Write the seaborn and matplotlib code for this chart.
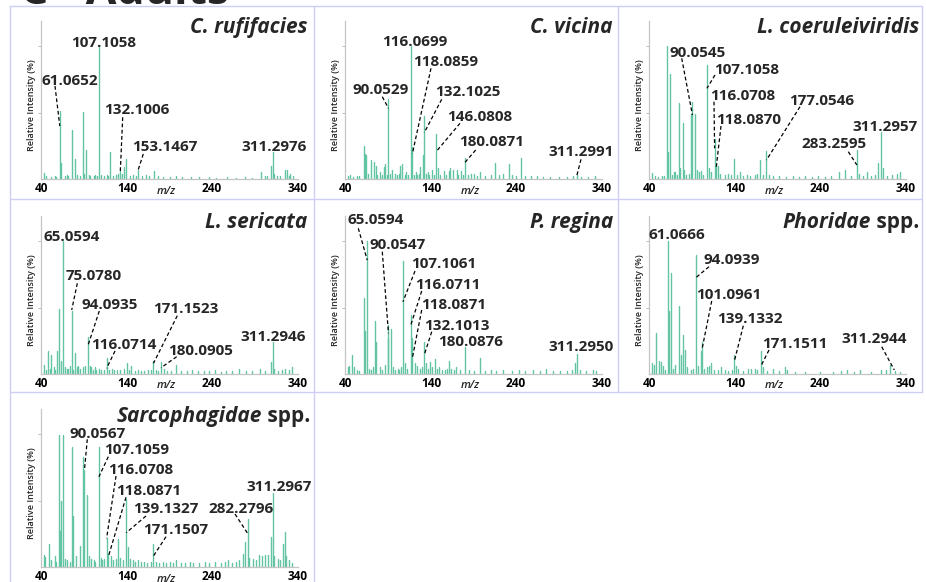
import numpy as np
import pandas as pd
import matplotlib
matplotlib.use("Agg")
import matplotlib.pyplot as plt
import seaborn as sns
from matplotlib.lines import Line2D
from matplotlib.transforms import blended_transform_factory

# ---------------- data ----------------
species = ["C. rufifacies", "C. vicina", "L. coeruleiviridis", "L. sericata",
           "P. regina", "Phoridae spp.", "Sarcophagidae spp."]

rufifacies_mz = [42.7, 45, 51, 55, 57, 61.0652, 62.9, 67, 69, 71, 75.3, 78.7, 81, 85, 88.8, 90, 91.8,
                 95, 97, 101, 103, 105, 107.1058, 109, 113, 116, 118, 120.6, 124, 127, 130, 132.1006,
                 134.5, 137, 138.7, 143, 147, 151, 153.1467, 158, 162, 166, 171.3, 176, 182, 190, 198,
                 205, 215, 225, 236, 245, 258, 268, 279, 287, 298, 302, 305, 309, 311.2976, 313, 316,
                 320, 325.3, 327.5, 330, 332, 335]
rufifacies_int = [4.3, 2, 1.5, 2, 1.5, 51, 12, 2, 3, 2, 37, 15, 3, 2, 50.6, 4, 22,
                  3, 2, 2, 3, 2, 100, 3, 2, 3, 2, 20, 2, 3, 4, 6,
                  4, 9, 15, 2, 3, 2, 7, 2, 3, 2, 6, 2, 1.5, 1.5, 2,
                  1.5, 1.5, 1.5, 1.5, 1, 1.5, 1, 1.5, 1, 5, 2, 2, 10, 20.5, 4, 2,
                  2, 7, 7, 2, 4, 2]
rufifacies_labels = [61.0652, 107.1058, 132.1006, 153.1467, 311.2976]

vicina_mz = [43, 45, 48, 53, 56, 61.1, 62.3, 64.2, 66, 69.6, 72.6, 75.3, 77, 80.3, 82, 84.5, 86.1, 88,
             90.0529, 92, 94.5, 97.6, 100, 102, 104.1, 106.4, 109, 111, 113, 116.0699, 118.0859, 120,
             122, 124, 126.4, 127.6, 130.2, 132.1025, 134, 136.8, 138, 141.8, 143, 146.0808, 148.3,
             151, 155.2, 158, 161.7, 162.9, 166, 170.5, 172, 175.2, 178, 180.0871, 183, 187, 190.5,
             194, 197.5, 203, 210, 215.5, 220, 224.3, 231.2, 235, 240, 245.4, 250, 258, 265, 272,
             280, 290, 300, 307, 311.2991, 316, 325, 333]
vicina_int = [2, 3, 1.5, 2, 2, 25, 19, 18, 4, 14, 13, 10, 3, 5, 3, 9, 11, 3,
              60, 4, 7, 4, 3, 4, 10, 11, 3, 5, 3, 100, 24, 3,
              5, 3, 4, 9, 18, 47, 4, 5, 3, 7, 3, 34, 8,
              3, 6, 3, 6, 8, 7, 7, 3, 6, 3, 15.5, 3, 4, 4,
              2, 5, 2, 3, 12, 3, 4, 11, 3, 2, 15.5, 2, 2, 2, 1.5,
              1.5, 1.5, 1.5, 2, 3, 1.5, 1.5, 2]
vicina_labels = [116.0699, 118.0859, 90.0529, 132.1025, 146.0808, 180.0871, 311.2991]

coerul_mz = [43.1, 46, 50, 54, 57, 60.4, 61.5, 63.4, 66, 68, 70, 72, 74.6, 76, 78.4, 80, 83, 86, 88.4,
             90.0545, 93, 95, 98, 100, 103, 107.1058, 109, 112, 116.0708, 118.0870, 120, 123, 128, 132,
             135, 138.3, 142, 146, 150, 154, 158, 163, 166, 169.8, 173, 177.0546, 180, 185, 192, 200,
             208, 215, 222, 230, 238, 246, 253, 262, 269.6, 276, 283.2595, 286, 291, 295, 300, 304,
             308, 311.2957, 314, 319, 324, 330, 334]
coerul_int = [4.8, 2, 1.5, 2, 2, 100, 20, 79, 3, 5, 5, 3, 57, 8, 42, 7, 3, 4, 49,
              58, 49, 7, 5, 6, 3, 86, 8, 5, 30, 12, 10, 4, 3, 4,
              3, 15, 3, 5, 2, 3, 2, 3, 4, 14, 3, 21, 3, 2, 2, 1.5,
              2, 1.5, 2, 1.5, 2, 1.5, 2, 5, 7, 2, 22, 4, 2, 5, 2, 3,
              12, 35, 8, 2, 3, 4, 5]
coerul_labels = [90.0545, 107.1058, 116.0708, 118.0870, 177.0546, 311.2957, 283.2595]

sericata_mz = [42.7, 45, 47.7, 49, 51.1, 54, 56, 58, 60.7, 62, 65.0594, 67, 69, 71, 73, 75.0780, 77, 79,
               81, 83, 85, 88, 91, 94.0935, 96, 98, 100, 102, 104, 107, 110, 113, 116.0714, 119, 122,
               125, 128, 132, 136, 139.5, 142, 145, 149, 153, 157, 160, 165, 168, 171.1523, 174, 177,
               180.0905, 183, 187, 192, 198.2, 204, 210, 216, 223, 230, 237, 244, 250, 256, 264, 272,
               280, 287, 296, 302, 309, 311.2946, 313, 318, 322, 326, 330, 334]
sericata_int = [7, 3, 17, 4, 14, 5, 3, 17, 49, 10, 100, 5, 4, 4, 6, 47, 3, 16,
                5, 6, 4, 5, 6, 28, 6, 5, 3, 5, 3, 4, 3, 3, 12, 3, 4,
                3, 3, 3, 4, 8.5, 3, 6, 2, 3, 2, 2, 3, 3, 10, 3, 2,
                9, 4, 2, 2, 7, 2, 2, 3, 2, 2, 2, 3, 1.5, 2, 2, 4,
                2, 2, 4, 2, 9, 24, 4, 2, 3, 4, 3, 5]
sericata_labels = [65.0594, 75.0780, 94.0935, 171.1523, 116.0714, 180.0905, 311.2946]

regina_mz = [42, 44, 47.7, 50, 53, 56, 61.1, 62.3, 65.0594, 67, 70, 72, 74.6, 76, 80, 83, 86, 89.2,
             90.0547, 93, 95, 98, 101, 103, 105, 107.1061, 109, 112, 116.0711, 118.0871, 121, 124, 127,
             129, 132.1013, 134, 137, 139, 141, 144.5, 147, 150, 153, 156, 159, 161.7, 164, 167, 170,
             174, 180.0876, 185, 190, 197.5, 203, 210, 217, 225, 235, 244, 250, 260, 268, 275, 284,
             292, 300, 306, 309, 311.2950, 315, 322, 330, 334]
regina_int = [5.5, 6, 14, 5, 3, 2, 57, 32, 100, 4, 3, 5, 40, 24, 5, 3, 7, 27,
              37, 34, 5, 3, 4, 3, 5, 85, 8, 4, 44, 27, 8, 6, 4,
              5, 24, 8, 4, 9, 5, 11, 4, 5, 3, 3, 4, 10, 4, 3, 5,
              3, 20, 3, 2, 12, 2, 3, 2, 3, 2, 3, 2, 3, 2, 4, 2,
              2, 2, 3, 8, 15, 3, 2, 3, 2]
regina_labels = [65.0594, 90.0547, 107.1061, 116.0711, 118.0871, 132.1013, 180.0876, 311.2950]

phoridae_mz = [42.5, 45, 47.7, 51, 53, 56, 58, 61.0666, 63, 64.5, 67, 69, 74.6, 77, 79.2, 81, 84, 88,
               91, 94.0939, 97, 99.9, 101.0961, 104, 107, 110, 112, 115, 120, 124, 128, 132, 136,
               139.1332, 141, 144, 150, 155, 159, 163, 166, 171.1511, 173, 178, 185, 192, 198.6, 201,
               210, 222, 240, 255, 265, 271.6, 280, 286.9, 300, 311.2944, 318, 322.6, 328, 334]
phoridae_int = [8, 7, 30.6, 10, 9, 6, 3, 100, 47, 76, 4, 7, 51, 14, 29, 18, 5, 3,
                4, 89.5, 6, 17, 24, 4, 5, 6, 8, 3, 3, 5, 3, 2, 3,
                14, 6, 4, 2, 4, 4, 4, 3, 17, 5, 2, 4, 2, 5.5, 3,
                1.5, 1.5, 1.5, 1.5, 2, 3, 1.5, 3, 1.5, 3, 3, 7, 2, 1.5]
phoridae_labels = [61.0666, 94.0939, 101.0961, 139.1332, 171.1511, 311.2944]

sarco_mz = [42.7, 44, 48.4, 51, 55, 57, 60.7, 61.5, 62.5, 65, 67, 70, 73, 75.3, 77, 80, 84.9, 88.5,
            90.0567, 92.5, 95, 98, 101, 103, 107.1059, 109, 111, 113, 116.0708, 118.0871, 121, 124,
            127, 129.9, 132, 135, 139.1327, 141, 144, 147, 150, 153, 156, 160, 164, 168, 171.1507,
            174, 178, 182, 186, 190, 194, 198, 203, 208, 214, 218, 225, 232, 237, 243, 250, 255, 259,
            264, 268, 272, 276, 278.9, 282.2796, 284, 288, 292, 295, 299, 302, 306, 309, 311.2967,
            313, 317, 320, 323, 325.3, 327, 331, 334]
sarco_int = [8.8, 7.5, 17.5, 5, 8, 4, 99, 27, 50, 99, 6, 5, 4, 90, 38, 8, 16, 83,
             73, 54, 8, 6, 5, 4, 90, 7, 5, 6, 22, 10, 8, 5,
             6, 21, 7, 5, 51, 15, 6, 5, 4, 5, 4, 4, 3, 4, 17.5,
             4, 3, 4, 3, 4, 3, 5, 3, 3, 4, 3, 3, 4, 3, 4, 3, 4, 5,
             3, 4, 5, 10, 19, 36, 7, 6, 5, 9, 8, 9, 9, 22.5, 56,
             8, 6, 5, 17.5, 26, 8, 5, 3]
sarco_labels = [90.0567, 107.1059, 116.0708, 118.0871, 139.1327, 171.1507, 282.2796, 311.2967]

x_ticks = [40, 140, 240, 340]
x_tick_labels = ["40", "140", "240", "340"]

spectra = [(rufifacies_mz, rufifacies_int, rufifacies_labels),
           (vicina_mz, vicina_int, vicina_labels),
           (coerul_mz, coerul_int, coerul_labels),
           (sericata_mz, sericata_int, sericata_labels),
           (regina_mz, regina_int, regina_labels),
           (phoridae_mz, phoridae_int, phoridae_labels),
           (sarco_mz, sarco_int, sarco_labels)]

# ---------------- layout (figure pixels) ----------------
W, H = 926, 582
COL_X = [10, 314, 618]
ROW_Y = [6, 199, 392]
AXIS_PY = [179, 374, 567]
AX_LEFT, AX_W, AX_H = 31, 257, 158
PX100 = 133.0
XLIM = (39, 341)
YLIM = (0, AX_H / PX100 * 100)

# label layout: (text centre x, centre y, leader start x, y, leader end x (None = peak), end y)
label_layout = [
    [(70.3, 80, 55, 86, None, 126), (103.5, 41.7, None, None, None, None),
     (136.8, 109, 122.7, 117.3, None, 173.3), (164.7, 146, 143.3, 154, None, 170),
     (273.7, 146, None, None, None, None)],
    [(415, 40.8, None, None, None, None), (445.8, 60.8, 431, 68.3, None, 154),
     (380.3, 89, 382.3, 96.7, None, 108.3), (467.5, 90.8, 441.7, 99.3, None, 132.7),
     (479.2, 115.8, 460, 123.3, None, 151.7), (492, 140.8, 475.7, 150, None, 162.3),
     (580.8, 150.8, 581, 159.3, None, 176)],
    [(697.5, 51.7, 681.7, 58.3, None, 115), (746.5, 68.3, 715, 75, None, 88.3),
     (742.8, 95, 714, 101.7, None, 148.3), (748.5, 119.2, 721, 126, None, 166.7),
     (821.5, 99.8, 800, 106.7, None, 160), (885.3, 125.8, None, None, None, None),
     (833.7, 142.5, 848.3, 151.7, None, 165)],
    [(71.7, 235.8, None, None, None, None), (93.3, 275, 77.3, 283.3, None, 310),
     (109.5, 304, 99.3, 311, None, 345.7), (185.8, 308, 177.3, 315.7, None, 363.3),
     (124.2, 343.5, 115, 351, None, 368.3), (200.8, 350, 176.7, 356.7, None, 367.7),
     (273.3, 335.8, None, None, None, None)],
    [(376, 219.2, 358.3, 228.3, None, 260), (397.8, 244.2, 382.3, 251.7, None, 333.3),
     (443.3, 263.3, 415, 271, None, 301.7), (448, 283.5, 421.7, 291, None, 325.7),
     (453.3, 304.2, 421.7, 310, None, 358.3), (456.7, 324.8, 431.7, 331.7, None, 355),
     (470.8, 340.8, None, None, None, None), (581, 345.8, None, None, None, None)],
    [(676.7, 234.2, None, None, None, None), (731.7, 259.2, 709, 266.7, None, 277.7),
     (728.5, 294.2, 711.7, 301, None, 350), (749.7, 317.5, 743.3, 325.7, None, 361.7),
     (795, 342.5, 769, 350, None, 365), (873.8, 337.5, 881.7, 346.7, 894.3, 370)],
    [(97.2, 432.5, 87.3, 439.3, None, 470), (136.7, 448.8, 108.3, 456.7, None, 476.7),
     (140.5, 468.3, 116, 476, None, 538.3), (148.3, 490, 126, 497.3, None, 556.7),
     (166.2, 507.5, 146, 516, None, 532.7), (175.8, 528.5, 166, 536.7, None, 556),
     (240.8, 507.5, 235, 514, None, 534), (279.2, 485.8, None, None, None, None)],
]
title_pos = [(308, 33), (613, 33), (919, 33), (307, 228), (613, 228), (919, 228), (310, 422)]

PEAK_COLOR = "#62c4a3"
AXIS_COLOR = "#c4c4c4"
BOX_COLOR = "#cdcdf6"

sns.set_theme(style="white")
plt.rcParams["font.family"] = ["Open Sans", "DejaVu Sans"]

fig = plt.figure(figsize=(W / 100, H / 100), dpi=100)
fig.patch.set_facecolor("white")


def fx(px):
    return px / W


def fy(py):
    return 1 - py / H


# panel boxes
def hline(py, x1, x2):
    fig.add_artist(Line2D([fx(x1), fx(x2)], [fy(py), fy(py)], color=BOX_COLOR, lw=1.0))


def vline(px, y1, y2):
    fig.add_artist(Line2D([fx(px), fx(px)], [fy(y1), fy(y2)], color=BOX_COLOR, lw=1.0))


hline(6, 10, 922)
hline(199, 10, 922)
hline(392, 10, 922)
vline(10, 6, 590)
vline(314, 6, 590)
vline(618, 6, 392)
vline(922, 6, 392)

# big heading, cut by top edge (as in the reference)
fig.text(fx(20), fy(3.5), "C - Adults", fontsize=32, weight="bold", ha="left", va="baseline")

renderer = fig.canvas.get_renderer()

for i, (mz, inten, labels) in enumerate(spectra):
    r, c = divmod(i, 3)
    x0 = COL_X[c]
    axis_py = AXIS_PY[r]
    ax_left_px = x0 + AX_LEFT
    ax = fig.add_axes([fx(ax_left_px), fy(axis_py), AX_W / W, AX_H / H])
    ax.set_facecolor("none")

    df = pd.DataFrame({
        "mz": np.repeat(np.asarray(mz, float), 2),
        "I": np.column_stack([np.zeros(len(inten)), np.asarray(inten, float)]).ravel(),
        "pid": np.repeat(np.arange(len(mz)), 2),
    })
    sns.lineplot(data=df, x="mz", y="I", units="pid", estimator=None, color=PEAK_COLOR,
                 lw=1.0, ax=ax, legend=False)

    ax.set_xlim(*XLIM)
    ax.set_ylim(*YLIM)
    ax.set_xticks(x_ticks)
    ax.set_xticklabels(x_tick_labels, fontsize=8.5, weight="bold")
    ax.set_yticks([50, 100])
    ax.set_yticklabels([])
    ax.tick_params(axis="x", length=0, pad=2.5, colors="black")
    ax.tick_params(axis="y", length=2.5, width=0.6, color="#b0b0b0", left=True)
    for s in ["top", "right"]:
        ax.spines[s].set_visible(False)
    for s in ["left", "bottom"]:
        ax.spines[s].set_color(AXIS_COLOR)
        ax.spines[s].set_linewidth(0.9)
    ax.set_xlabel("")
    ax.set_ylabel("Relative Intensity (%)", fontsize=6.5, weight="semibold")
    ax.yaxis.set_label_coords(-5 / AX_W, 0.47)

    trans = blended_transform_factory(ax.transData, ax.transAxes)
    ax.text(186, -12 / AX_H, "m/z", transform=trans, ha="center", va="center",
            fontsize=8, style="italic", weight="semibold")

    def to_data(px, py):
        xd = XLIM[0] + (px - ax_left_px) / AX_W * (XLIM[1] - XLIM[0])
        yd = (axis_py - py) / PX100 * 100
        return xd, yd

    for val, (cx, cy, sx, sy, ex, ey) in zip(labels, label_layout[i]):
        fig.text(fx(cx), fy(cy + 5.2), f"{val:.4f}", ha="center", va="baseline",
                 fontsize=11, weight="bold")
        if sx is not None:
            sxd, syd = to_data(sx, sy)
            if ex is None:
                exd = val
            else:
                exd = to_data(ex, ey)[0]
            eyd = to_data(0, ey)[1]
            ax.plot([sxd, exd], [syd, eyd], color="black", lw=0.9,
                    linestyle=(0, (3, 2)), clip_on=False)

    # species title
    tx, ty = title_pos[i]
    name = species[i]
    if name.endswith(" spp."):
        t2 = fig.text(fx(tx), fy(ty), " spp.", ha="right", va="baseline", fontsize=15,
                      weight="bold")
        bb = t2.get_window_extent(renderer)
        fig.text(bb.x0 / W, fy(ty), name[:-5], ha="right", va="baseline", fontsize=15,
                 weight="bold", style="italic")
    else:
        fig.text(fx(tx), fy(ty), name, ha="right", va="baseline", fontsize=15,
                 weight="bold", style="italic")

fig.savefig("out.png", dpi=100, facecolor="white")
